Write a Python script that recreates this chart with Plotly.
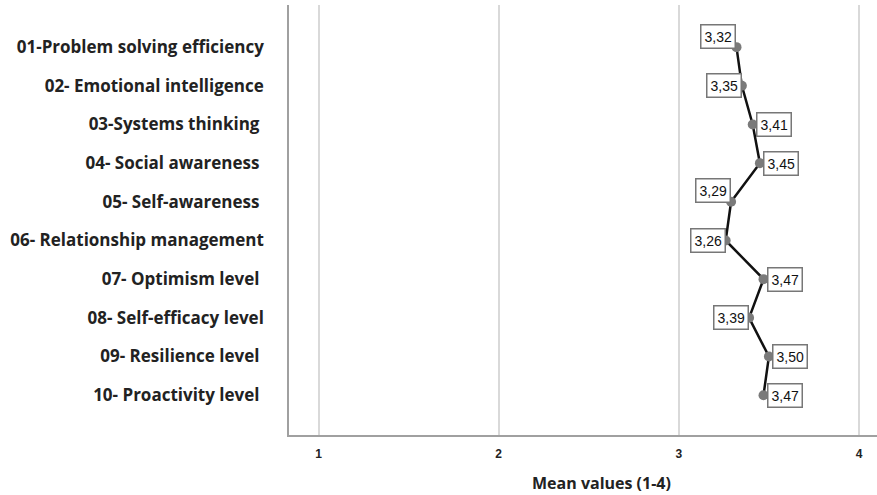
import plotly.graph_objects as go

categories = ["01-Problem solving efficiency", "02- Emotional intelligence", "03-Systems thinking ",
              "04- Social awareness ", "05- Self-awareness ", "06- Relationship management",
              "07- Optimism level ", "08- Self-efficacy level", "09- Resilience level ",
              "10- Proactivity level "]
means = [3.32, 3.35, 3.41, 3.45, 3.29, 3.26, 3.47, 3.39, 3.50, 3.47]
label_side = ["left", "left", "right", "right", "left", "left", "right", "left", "right", "right"]
x_ticks = [1, 2, 3, 4]
x_title = "Mean values (1-4)"

idx = list(range(len(categories)))

fig = go.Figure()
fig.add_trace(go.Scatter(
    x=means, y=idx, mode="lines+markers",
    line=dict(color="#111111", width=2.5),
    marker=dict(color="#7a7a7a", size=10),
    hoverinfo="x+y", showlegend=False,
))

yshift = {0: 11, 4: 11}
for i, (v, side) in enumerate(zip(means, label_side)):
    fig.add_annotation(
        x=v, y=i, text=f"{v:.2f}".replace(".", ","),
        showarrow=False,
        xanchor="right" if side == "left" else "left",
        xshift=0 if side == "left" else 3,
        yshift=yshift.get(i, 0),
        font=dict(family="Liberation Sans, Arial", size=14, color="#111111"),
        bgcolor="white", bordercolor="#777777", borderwidth=1.5, borderpad=3,
    )

fig.add_annotation(
    x=0.532, y=-0.111, xref="paper", yref="paper", xanchor="center", yanchor="middle",
    text=f"<b>{x_title}</b>", showarrow=False,
    font=dict(family="Open Sans", size=16, color="#222222"),
)

fig.update_layout(
    width=877, height=495,
    margin=dict(l=289, r=0, t=5, b=60, autoexpand=False),
    plot_bgcolor="white", paper_bgcolor="white",
    xaxis=dict(
        range=[0.836, 4.1], tickvals=x_ticks, ticktext=[f"<b>{t}</b>" for t in x_ticks],
        showgrid=True, gridcolor="#d9d9d9", gridwidth=1.5, automargin=False,
        showline=True, linecolor="#a0a0a0", linewidth=1.5, zeroline=False,
        tickfont=dict(family="Liberation Sans, Arial", size=12, color="#222222"),
        ticks="", ticklabelstandoff=7,
    ),
    yaxis=dict(
        range=[10.03, -1.09], tickvals=idx, automargin=False,
        ticktext=[f"<b>{c}</b>" for c in categories],
        showgrid=False, showline=True, linecolor="#a0a0a0", linewidth=1.5, zeroline=False,
        ticks="", ticklabelstandoff=20,
        tickfont=dict(family="Open Sans", size=17, color="#222222"),
    ),
)

fig.write_html("out.html", post_script="document.body.style.margin='0';",
               config={"displayModeBar": False})
